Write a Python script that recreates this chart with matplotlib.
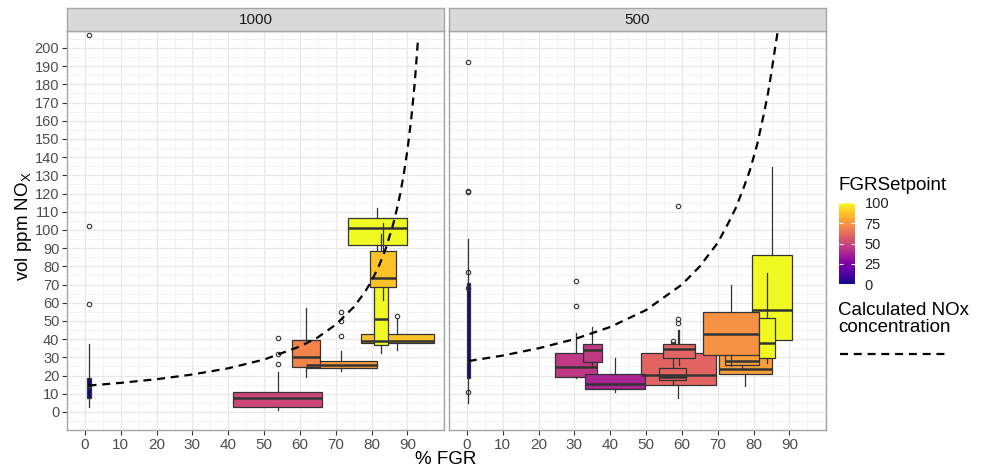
import numpy as np
import matplotlib.pyplot as plt
from matplotlib import colors as mcolors
from matplotlib.colorbar import ColorbarBase
from matplotlib.lines import Line2D

plt.rcParams['font.family'] = ['Liberation Sans', 'DejaVu Sans']
plt.rcParams['mathtext.default'] = 'regular'

# ---- data ----
panel_names = ['1000', '500']

# panel "1000": box centre (% FGR), box width, FGRSetpoint, box stats, outliers
pos_1000 = [1.1, 53.8, 71.5, 61.7, 87.2, 81.6, 82.7, 83.2]
wid_1000 = [1.3, 24.9, 19.8, 7.9, 20.5, 16.4, 4.0, 7.2]
set_1000 = [0, 50, 77, 70, 87, 100, 100, 87]
q1_1000 = [7.5, 2.6, 24.4, 24.5, 37.7, 91.8, 36.6, 68.7]
med_1000 = [13.9, 7.5, 25.8, 30.0, 39.0, 101.0, 50.9, 73.4]
q3_1000 = [18.5, 10.8, 28.2, 39.6, 43.0, 106.4, 80.0, 88.6]
lo_1000 = [2.6, 1.1, 22.7, 19.4, 34.0, 85.0, 32.6, 61.5]
hi_1000 = [37.4, 22.2, 33.7, 57.0, 51.0, 112.0, 98.0, 103.7]
out_1000 = [[59.5, 102, 207], [26.4, 31.9, 40.5], [41.8, 50, 55.1], [],
            [52.7], [], [], []]

# panel "500"
pos_500 = [0.4, 30.5, 35.0, 59.0, 41.3, 57.4, 59.3, 85.2, 77.7, 76.8, 73.8, 83.8]
wid_500 = [1.0, 11.6, 5.4, 21.1, 16.8, 7.5, 8.9, 11.1, 14.8, 9.6, 15.6, 4.4]
set_500 = [0, 45, 45, 60, 38, 60, 60, 100, 78, 78, 74, 100]
q1_500 = [18.5, 19.4, 27.6, 14.8, 12.6, 17.4, 29.8, 39.6, 20.7, 26.0, 31.3, 29.5]
med_500 = [28.0, 24.6, 34.0, 20.2, 15.4, 19.4, 34.4, 56.0, 23.8, 28.0, 43.0, 37.7]
q3_500 = [70.7, 32.6, 37.2, 32.6, 20.9, 24.0, 37.2, 86.3, 31.9, 31.7, 55.1, 51.8]
lo_500 = [5.1, 18.5, 25.0, 7.5, 11.2, 15.0, 26.0, 30.0, 14.5, 24.0, 25.0, 27.0]
hi_500 = [94.9, 43.2, 46.9, 45.0, 29.5, 30.0, 45.0, 134.4, 54.5, 36.8, 69.8, 76.2]
out_500 = [[11.2, 68.3, 76.8, 120.7, 121.3, 192.5], [58, 72], [], [49, 51, 113], [],
           [34.6, 35.5, 36.5, 37.5, 39], [], [], [], [39.6, 41.8, 44.1, 48.4], [], []]

# calculated NOx concentration (dashed curve)
calc_x_1000 = [1, 10, 20, 30, 40, 50, 60, 65, 70, 75, 78, 80, 82, 84, 86, 87, 88, 89, 90, 91, 92, 93]
calc_y_1000 = [14.5, 16, 18, 20.6, 24, 28.8, 36, 41, 48, 57.6, 65.5, 72, 80, 90, 103, 111, 120,
               131, 144, 160, 180, 206]
calc_x_500 = [0.5, 10, 20, 30, 40, 50, 60, 65, 70, 73, 75, 77, 79, 80, 81, 82, 83, 84, 85, 86, 86.8]
calc_y_500 = [28, 31, 35, 40, 46.7, 56, 70, 80, 93, 104, 112, 122, 133, 140, 147, 156, 165,
              175, 187, 200, 210]

panels = [
    (pos_1000, wid_1000, set_1000, q1_1000, med_1000, q3_1000, lo_1000, hi_1000, out_1000,
     calc_x_1000, calc_y_1000),
    (pos_500, wid_500, set_500, q1_500, med_500, q3_500, lo_500, hi_500, out_500,
     calc_x_500, calc_y_500),
]

W, H = 988, 471
fig = plt.figure(figsize=(W / 100, H / 100), dpi=100)
cmap = plt.get_cmap('plasma')
norm = mcolors.Normalize(0, 100)

panel_left = [67, 449]
panel_w = 377
p_top, p_bot = 31, 430
strip_top = 8

for i, (name, data) in enumerate(zip(panel_names, panels)):
    pos, wid, sp, q1, med, q3, lo, hi, out, cx, cy = data
    ax = fig.add_axes([panel_left[i] / W, 1 - p_bot / H, panel_w / W, (p_bot - p_top) / H])
    ax.set_xlim(-4.8, 100.2)
    ax.set_ylim(-9.9, 209.3)
    ax.set_xticks(np.arange(0, 91, 10))
    ax.set_yticks(np.arange(0, 201, 10))
    ax.set_xticks(np.arange(-5, 101, 5), minor=True)
    ax.set_yticks(np.arange(-5, 206, 5), minor=True)
    ax.grid(which='major', color='#E8E8E8', lw=0.9)
    ax.grid(which='minor', color='#F0F0F0', lw=0.6)
    ax.set_axisbelow(True)
    for s in ax.spines.values():
        s.set_color('#A6A6A6')
        s.set_linewidth(1.0)
    ax.tick_params(which='minor', length=0)
    ax.tick_params(which='major', length=3.5, width=0.8, color='#333333',
                   labelcolor='#4D4D4D', labelsize=11, pad=2)
    ax.tick_params(axis='y', labelsize=10.5)
    if i > 0:
        ax.tick_params(axis='y', left=False, labelleft=False)

    for k in range(len(pos)):
        stats = [dict(med=med[k], q1=q1[k], q3=q3[k], whislo=lo[k], whishi=hi[k],
                      fliers=out[k])]
        col = cmap(norm(sp[k]))
        ax.bxp(stats, positions=[pos[k]], widths=[wid[k]], patch_artist=True,
               showcaps=False, manage_ticks=False,
               boxprops=dict(facecolor=col, edgecolor='#333333', lw=0.9),
               medianprops=dict(color='#333333', lw=1.8),
               whiskerprops=dict(color='#333333', lw=0.9),
               flierprops=dict(marker='o', markersize=3.2, markerfacecolor='none',
                               markeredgecolor='#333333', markeredgewidth=0.8))

    ax.plot(cx, cy, color='black', lw=1.6, dashes=(3.6, 2.6), zorder=5)

    sax = fig.add_axes([panel_left[i] / W, 1 - p_top / H, panel_w / W, (p_top - strip_top) / H])
    sax.set_facecolor('#D9D9D9')
    sax.set_xticks([])
    sax.set_yticks([])
    for s in sax.spines.values():
        s.set_color('#A6A6A6')
        s.set_linewidth(1.0)
    sax.text(0.5, 0.48, name, ha='center', va='center', fontsize=11, color='#1A1A1A',
             transform=sax.transAxes)

fig.text(23 / W, 1 - 226 / H, 'vol ppm NO$_X$', rotation=90, ha='center', va='center',
         fontsize=13.5)
fig.text(446 / W, 1 - 460 / H, '% FGR', ha='center', va='center', fontsize=13.5)

# legend
fig.text(838 / W, 1 - 186 / H, 'FGRSetpoint', ha='left', va='center', fontsize=13.5)
cax = fig.add_axes([839 / W, 1 - 284 / H, 16 / W, 81 / H])
cb = ColorbarBase(cax, cmap=cmap, norm=norm, ticks=[0, 25, 50, 75, 100])
cb.outline.set_visible(False)
cax.tick_params(direction='in', color='white', labelcolor='#222222', length=3,
                width=0.8, left=True, right=True, labelsize=10.5, pad=7)
fig.text(838 / W, 1 - 319 / H, 'Calculated NOx\nconcentration', ha='left', va='center',
         fontsize=13.5, linespacing=1.05)
fig.add_artist(Line2D([840 / W, 948 / W], [1 - 354 / H, 1 - 354 / H], color='black',
                      lw=1.6, dashes=(3.6, 2.6), transform=fig.transFigure))

fig.savefig('out.png', dpi=100)
